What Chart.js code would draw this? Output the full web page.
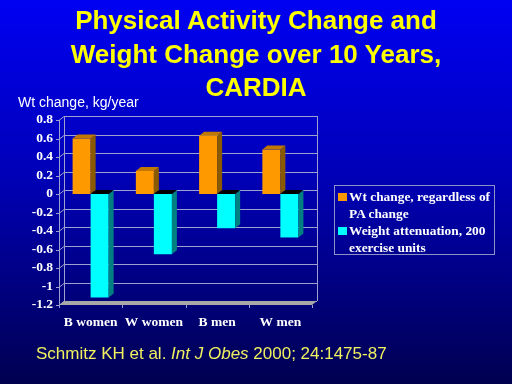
<!DOCTYPE html>
<html>
<head>
<meta charset="utf-8">
<script src="https://cdn.jsdelivr.net/npm/chart.js@4.4.0/dist/chart.umd.min.js"></script>
<style>
  html, body { margin: 0; padding: 0; }
  body {
    width: 512px; height: 384px; overflow: hidden; position: relative;
    background: linear-gradient(to bottom, #0000f2 0%, #0000b8 45%, #000050 100%);
    font-family: "Liberation Sans", Arial, sans-serif;
  }
  #chart { position: absolute; left: 0; top: 0; }
  #title {
    position: absolute; left: 0; top: 4px; width: 512px; text-align: center;
    color: #ffff00; font-weight: bold; font-size: 26px; line-height: 33.5px;
  }
  #ylab { position: absolute; left: 18px; top: 94px; color: #fff; font-size: 14px; line-height: 16px; white-space: nowrap; }
  #legend {
    position: absolute; left: 334px; top: 185px; width: 159px; height: 66px;
    border: 1px solid #9090c8; padding-top: 1.5px; box-sizing: content-box;
    font-family: "Liberation Serif", "Times New Roman", serif; font-weight: bold;
    font-size: 13.4px; line-height: 17px; color: #fff;
  }
  #legend .item { position: relative; padding-left: 14px; white-space: nowrap; }
  #legend .sw { position: absolute; left: 3px; top: 5px; width: 9px; height: 8px; }
  #cite { position: absolute; left: 36px; top: 344px; color: #f0f060; font-size: 17px; line-height: 19px; white-space: nowrap; }
</style>
</head>
<body>
<canvas id="chart" width="512" height="384"></canvas>
<div id="title">Physical Activity Change and<br>Weight Change over 10 Years,<br>CARDIA</div>
<div id="ylab">Wt change, kg/year</div>
<div id="legend"></div>
<div id="cite">Schmitz KH et al. <i>Int J Obes</i> 2000; 24:1475-87</div>
<script>
/* =============================
   DATA
============================= */
const groups = ["B women", "W women", "B men", "W men"];
const wtChange = [0.60, 0.25, 0.63, 0.48];
const wtAttenuation = [-1.12, -0.65, -0.37, -0.47];
const seriesLabels = [
  ["Wt change, regardless of", "PA change"],
  ["Weight attenuation, 200", "exercise units"]
];
const yTicks = [-1.2, -1, -0.8, -0.6, -0.4, -0.2, 0, 0.2, 0.4, 0.6, 0.8];
const yTickLabels = ["-1.2", "-1", "-0.8", "-0.6", "-0.4", "-0.2", "0", "0.2", "0.4", "0.6", "0.8"];

/* =============================
   STYLE
============================= */
const frontColors = ["#ff9900", "#00ffff"];
const sideColors = ["#8a5a00", "#008080"];
const topColors = ["#c07800", "#000000"];
const DX = 5, DY = 4;
const gridColor = "#a0a0d0";
const serifBold = { family: "'Liberation Serif', 'Times New Roman', serif", weight: "bold", size: 13.5 };

function poly(ctx, pts) {
  ctx.beginPath();
  ctx.moveTo(pts[0], pts[1]);
  for (let i = 2; i < pts.length; i += 2) ctx.lineTo(pts[i], pts[i + 1]);
  ctx.closePath();
  ctx.fill();
}

/* back wall, floor, axis + 3d faces of the bars */
const wallPlugin = {
  id: "wall",
  beforeDatasetsDraw(chart) {
    const { ctx, chartArea: a, scales: { x, y } } = chart;
    ctx.save();
    ctx.strokeStyle = gridColor;
    ctx.lineWidth = 1;
    y.ticks.forEach(t => {
      const py = Math.round(y.getPixelForValue(t.value)) + 0.5;
      ctx.beginPath();
      ctx.moveTo(a.left, py);
      ctx.lineTo(a.left + DX, py - DY);
      ctx.lineTo(a.right + DX, py - DY);
      ctx.stroke();
      ctx.beginPath();
      ctx.moveTo(a.left - 3, py);
      ctx.lineTo(a.left, py);
      ctx.stroke();
    });
    ctx.beginPath();
    ctx.moveTo(a.left + DX + 0.5, a.top - DY);
    ctx.lineTo(a.left + DX + 0.5, a.bottom - DY);
    ctx.moveTo(a.right + DX + 0.5, a.top - DY);
    ctx.lineTo(a.right + DX + 0.5, a.bottom - DY);
    ctx.stroke();
    ctx.beginPath();
    ctx.moveTo(a.left + 0.5, a.top);
    ctx.lineTo(a.left + 0.5, a.bottom);
    ctx.stroke();
    // floor
    ctx.fillStyle = "#a8a8a8";
    poly(ctx, [a.left, a.bottom, a.right, a.bottom, a.right + DX, a.bottom - DY, a.left + DX, a.bottom - DY]);
    // category ticks
    const half = (x.getPixelForValue(1) - x.getPixelForValue(0)) / 2;
    for (let i = 0; i <= groups.length; i++) {
      const px = Math.round(x.getPixelForValue(i) - half) + 0.5;
      ctx.beginPath();
      ctx.moveTo(px, a.bottom);
      ctx.lineTo(px, a.bottom + 3);
      ctx.stroke();
    }
    ctx.restore();
  },
  afterDatasetsDraw(chart) {
    const { ctx } = chart;
    ctx.save();
    chart.data.datasets.forEach((ds, i) => {
      const meta = chart.getDatasetMeta(i);
      meta.data.forEach(bar => {
        const { x, y, base, width } = bar.getProps(["x", "y", "base", "width"], true);
        const l = x - width / 2, r = x + width / 2;
        const top = Math.min(y, base), bot = Math.max(y, base);
        ctx.fillStyle = sideColors[i];
        poly(ctx, [r, top, r + DX, top - DY, r + DX, bot - DY, r, bot]);
        ctx.fillStyle = topColors[i];
        poly(ctx, [l, top, l + DX, top - DY, r + DX, top - DY, r, top]);
      });
    });
    ctx.restore();
  }
};

/* =============================
   CHART
============================= */
new Chart(document.getElementById("chart"), {
  type: "bar",
  data: {
    labels: groups,
    datasets: [
      { label: seriesLabels[0].join(" "), data: wtChange, backgroundColor: frontColors[0] },
      { label: seriesLabels[1].join(" "), data: wtAttenuation, backgroundColor: frontColors[1] }
    ]
  },
  options: {
    responsive: false,
    animation: false,
    devicePixelRatio: 1,
    categoryPercentage: 0.57,
    barPercentage: 1,
    layout: { padding: { left: 0, right: 200, top: 120, bottom: 39 } },
    plugins: { legend: { display: false }, tooltip: { enabled: false } },
    scales: {
      x: {
        grid: { display: false, drawTicks: false },
        border: { display: false },
        ticks: { color: "#ffffff", font: serifBold, padding: 9, maxRotation: 0, autoSkip: false },
        afterFit(s) { s.height = 40; }
      },
      y: {
        min: -1.2,
        max: 0.8,
        grid: { display: false, drawTicks: false },
        border: { display: false },
        afterBuildTicks(s) { s.ticks = yTicks.map(v => ({ value: v })); },
        ticks: {
          color: "#ffffff", font: serifBold, padding: 6, autoSkip: false,
          callback: (v, i) => yTickLabels[i]
        },
        afterFit(s) { s.width = 59; }
      }
    }
  },
  plugins: [wallPlugin]
});

/* legend */
const legend = document.getElementById("legend");
seriesLabels.forEach((lines, i) => {
  const item = document.createElement("div");
  item.className = "item";
  item.innerHTML = `<span class="sw" style="background:${frontColors[i]}"></span>` + lines.join("<br>");
  legend.appendChild(item);
});
</script>
</body>
</html>
